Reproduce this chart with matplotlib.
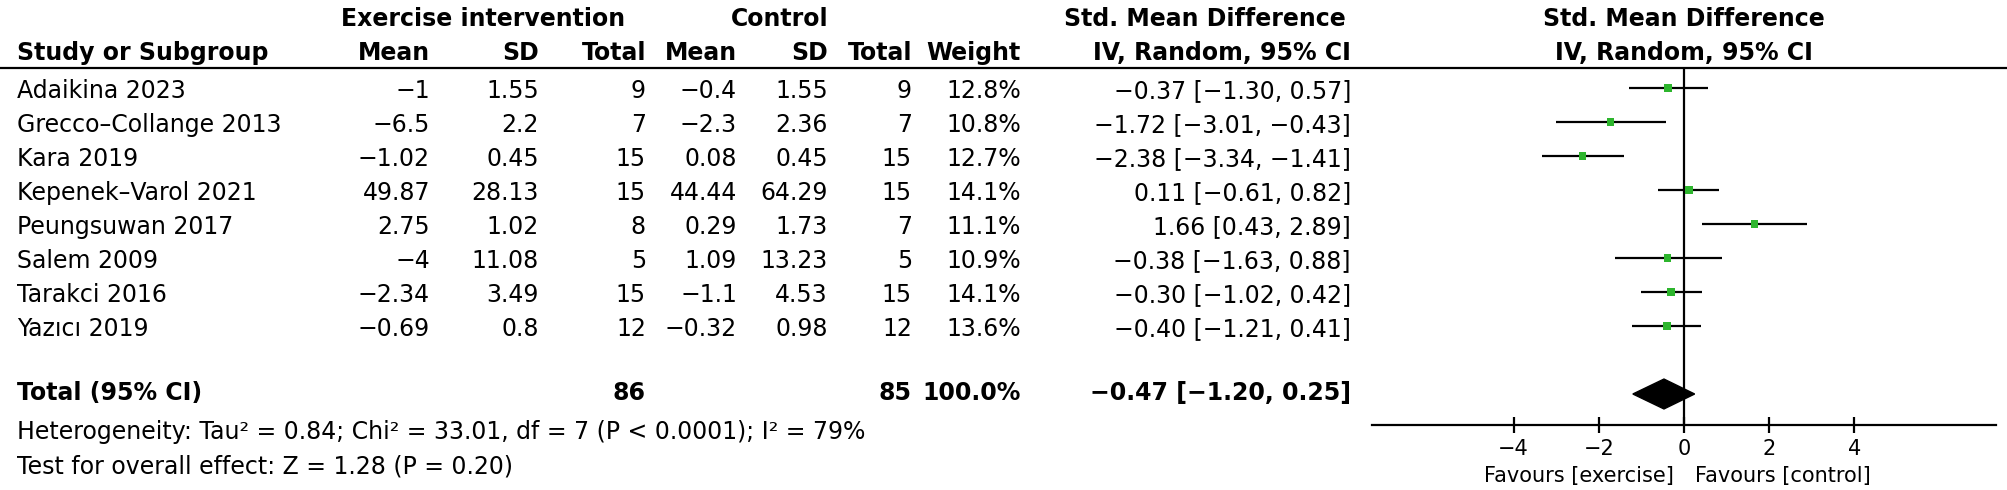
import matplotlib
matplotlib.use("Agg")
import matplotlib.pyplot as plt
from matplotlib.patches import Polygon

# ---------------- data ----------------
studies = ["Adaikina 2023", "Grecco\u2013Collange 2013", "Kara 2019", "Kepenek\u2013Varol 2021",
           "Peungsuwan 2017", "Salem 2009", "Tarakci 2016", "Yaz\u0131c\u0131 2019"]
exp_mean = ["-1", "-6.5", "-1.02", "49.87", "2.75", "-4", "-2.34", "-0.69"]
exp_sd = ["1.55", "2.2", "0.45", "28.13", "1.02", "11.08", "3.49", "0.8"]
exp_n = [9, 7, 15, 15, 8, 5, 15, 12]
ctl_mean = ["-0.4", "-2.3", "0.08", "44.44", "0.29", "1.09", "-1.1", "-0.32"]
ctl_sd = ["1.55", "2.36", "0.45", "64.29", "1.73", "13.23", "4.53", "0.98"]
ctl_n = [9, 7, 15, 15, 7, 5, 15, 12]
weights = [12.8, 10.8, 12.7, 14.1, 11.1, 10.9, 14.1, 13.6]
smd = [-0.37, -1.72, -2.38, 0.11, 1.66, -0.38, -0.30, -0.40]
ci_low = [-1.30, -3.01, -3.34, -0.61, 0.43, -1.63, -1.02, -1.21]
ci_high = [0.57, -0.43, -1.41, 0.82, 2.89, 0.88, 0.42, 0.41]
total_exp, total_ctl = 86, 85
total_weight = 100.0
total_smd, total_low, total_high = -0.47, -1.20, 0.25
ticks = [-4, -2, 0, 2, 4]
het_text = "Heterogeneity: Tau\u00b2 = 0.84; Chi\u00b2 = 33.01, df = 7 (P < 0.0001); I\u00b2 = 79%"
test_text = "Test for overall effect: Z = 1.28 (P = 0.20)"

# ---------------- figure ----------------
W, H = 2008, 490
DPI = 100
fig = plt.figure(figsize=(W / DPI, H / DPI), dpi=DPI)
plt.rcParams['font.family'] = ['DejaVu Sans']

FS = 17
FS_SMALL = 15

# text layer in pixel coordinates
tx = fig.add_axes([0, 0, 1, 1])
tx.set_xlim(0, W)
tx.set_ylim(H, 0)
tx.axis("off")

def m(s):
    return s.replace("-", "\u2212")

def fmt(v):
    return m(f"{v:.2f}")

# headers
hb1 = 26
hb2 = 60
tx.text(483, hb1, "Exercise intervention", ha="center", va="baseline", fontsize=FS, fontweight="bold")
tx.text(780, hb1, "Control", ha="center", va="baseline", fontsize=FS, fontweight="bold")
tx.text(1205, hb1, "Std. Mean Difference", ha="center", va="baseline", fontsize=FS, fontweight="bold")
tx.text(17, hb2, "Study or Subgroup", ha="left", va="baseline", fontsize=FS, fontweight="bold")
cols = [430, 539, 646, 737, 828, 912, 1021, 1351]
names = ["Mean", "SD", "Total", "Mean", "SD", "Total", "Weight", "IV, Random, 95% CI"]
for x, n in zip(cols, names):
    tx.text(x, hb2, n, ha="right", va="baseline", fontsize=FS, fontweight="bold")

# header line
tx.plot([0, W], [68, 68], color="black", lw=1.6, solid_capstyle="butt")

# rows
for i in range(len(studies)):
    yb = 98 + 34 * i
    tx.text(17, yb, studies[i], ha="left", va="baseline", fontsize=FS)
    vals = [m(exp_mean[i]), exp_sd[i], str(exp_n[i]), m(ctl_mean[i]), ctl_sd[i], str(ctl_n[i]),
            f"{weights[i]:.1f}%", f"{fmt(smd[i])} [{fmt(ci_low[i])}, {fmt(ci_high[i])}]"]
    for x, v in zip(cols, vals):
        tx.text(x, yb, v, ha="right", va="baseline", fontsize=FS)

yt = 400
tx.text(17, yt, "Total (95% CI)", ha="left", va="baseline", fontsize=FS, fontweight="bold")
tx.text(cols[2], yt, str(total_exp), ha="right", va="baseline", fontsize=FS, fontweight="bold")
tx.text(cols[5], yt, str(total_ctl), ha="right", va="baseline", fontsize=FS, fontweight="bold")
tx.text(cols[6], yt, f"{total_weight:.1f}%", ha="right", va="baseline", fontsize=FS, fontweight="bold")
tx.text(cols[7], yt, f"{fmt(total_smd)} [{fmt(total_low)}, {fmt(total_high)}]",
        ha="right", va="baseline", fontsize=FS, fontweight="bold")
tx.text(17, 439, het_text, ha="left", va="baseline", fontsize=FS)
tx.text(17, 473, test_text, ha="left", va="baseline", fontsize=FS)

# ---------------- forest panel ----------------
x0, x1 = 1372, 1996
ytop, ybot = 68, 425
ax = fig.add_axes([x0 / W, 1 - ybot / H, (x1 - x0) / W, (ybot - ytop) / H])
ax.patch.set_alpha(0)
r_top = (ytop - 88) / 34
r_bot = (ybot - 88) / 34
ax.set_ylim(r_bot, r_top)
ax.set_xlim(-7.32, 7.32)
for s in ["top", "right", "left"]:
    ax.spines[s].set_visible(False)
ax.spines["bottom"].set_linewidth(1.6)
ax.set_yticks([])
ax.set_xticks(ticks)
ax.set_xticklabels([m(str(t)) for t in ticks], fontsize=FS_SMALL)
ax.tick_params(axis="x", direction="inout", length=12, width=1.6, pad=4)

ax.axvline(0, color="black", lw=1.6, zorder=1)
rows = list(range(len(studies)))
ax.hlines(rows, ci_low, ci_high, color="black", lw=1.6, zorder=2)
sizes = [(5.6 * (w / 12.8) ** 0.5) ** 2 for w in weights]
ax.scatter(smd, rows, s=sizes, marker="s", color="#2db52d", edgecolors="none", zorder=3)

tr = 9
dia = Polygon([[total_low, tr], [total_smd, tr - 0.44], [total_high, tr], [total_smd, tr + 0.44]],
              closed=True, facecolor="black", edgecolor="black", zorder=3)
ax.add_patch(dia)

# right header
tx.text(1684, hb1, "Std. Mean Difference", ha="center", va="baseline", fontsize=FS, fontweight="bold")
tx.text(1684, hb2, "IV, Random, 95% CI", ha="center", va="baseline", fontsize=FS, fontweight="bold")
tx.text(1674, 482, "Favours [exercise]", ha="right", va="baseline", fontsize=FS_SMALL)
tx.text(1695, 482, "Favours [control]", ha="left", va="baseline", fontsize=FS_SMALL)

fig.savefig("out.png", dpi=DPI)
